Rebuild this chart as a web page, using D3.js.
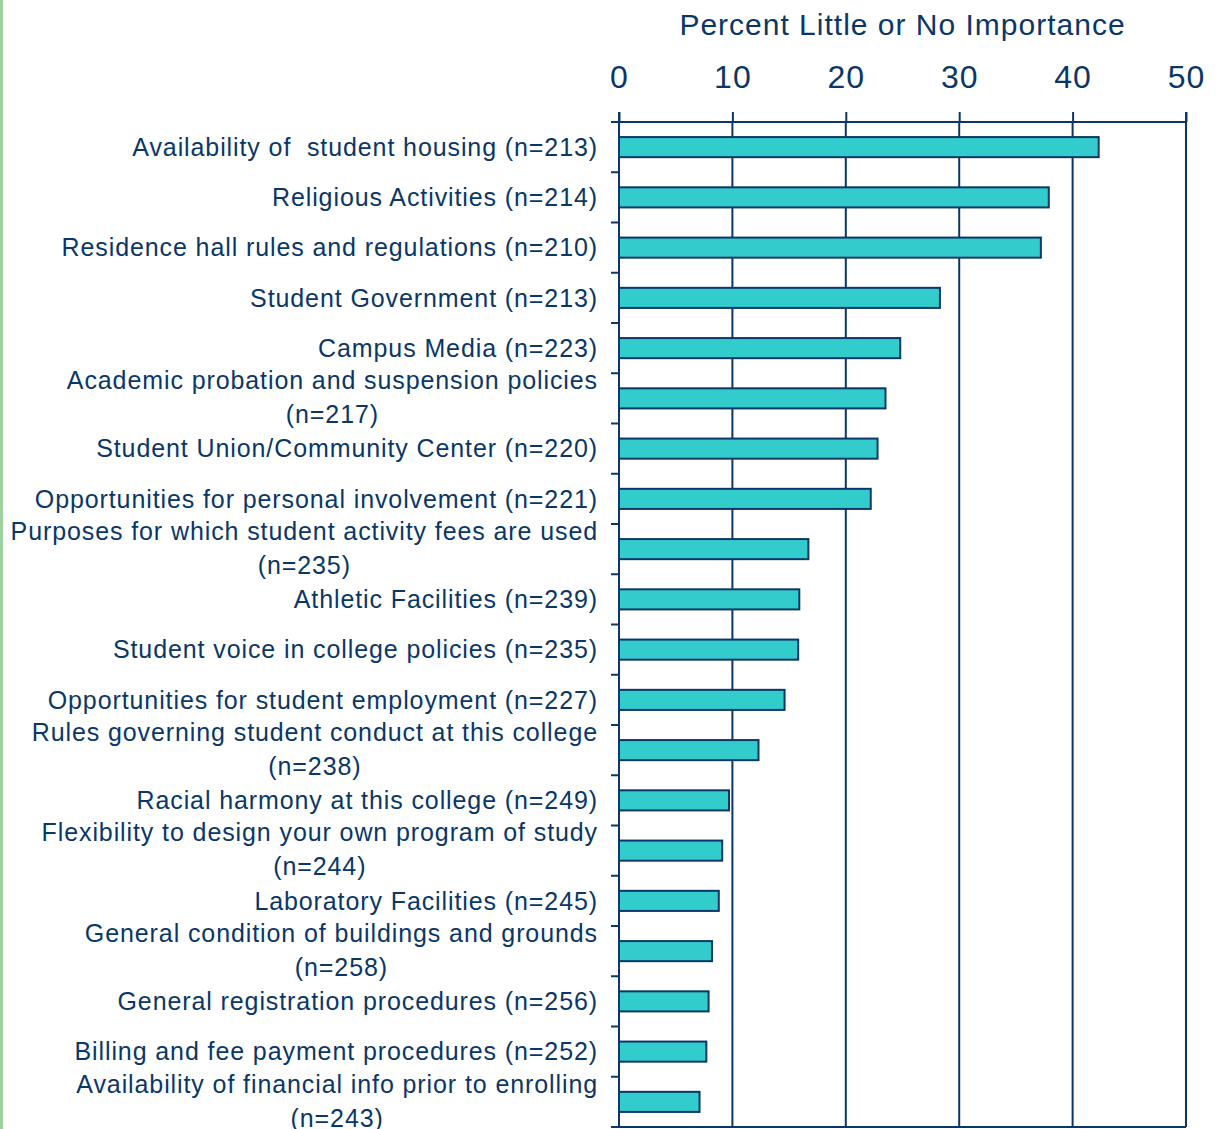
<!DOCTYPE html>
<html>
<head>
<meta charset="utf-8">
<script src="https://cdn.jsdelivr.net/npm/d3@7"></script>
<style>
  body { margin: 0; background: #fff; }
  svg { display: block; font-family: "Liberation Sans", Arial, sans-serif; }
  text { white-space: pre; }
</style>
</head>
<body>
<svg id="chart"></svg>
<script>
// Data
const categories = [
  ["Availability of  student housing (n=213)"],
  ["Religious Activities (n=214)"],
  ["Residence hall rules and regulations (n=210)"],
  ["Student Government (n=213)"],
  ["Campus Media (n=223)"],
  ["Academic probation and suspension policies", "(n=217)"],
  ["Student Union/Community Center (n=220)"],
  ["Opportunities for personal involvement (n=221)"],
  ["Purposes for which student activity fees are used", "(n=235)"],
  ["Athletic Facilities (n=239)"],
  ["Student voice in college policies (n=235)"],
  ["Opportunities for student employment (n=227)"],
  ["Rules governing student conduct at this college", "(n=238)"],
  ["Racial harmony at this college (n=249)"],
  ["Flexibility to design your own program of study", "(n=244)"],
  ["Laboratory Facilities (n=245)"],
  ["General condition of buildings and grounds", "(n=258)"],
  ["General registration procedures (n=256)"],
  ["Billing and fee payment procedures (n=252)"],
  ["Availability of financial info prior to enrolling", "(n=243)"]
];
const values = [42.3, 37.9, 37.2, 28.3, 24.8, 23.5, 22.8, 22.2, 16.7, 15.9,
  15.8, 14.6, 12.3, 9.7, 9.1, 8.8, 8.2, 7.9, 7.7, 7.1];
const tickValues = [0, 10, 20, 30, 40, 50];
const title = "Percent Little or No Importance";

// Constants
const width = 1217;
const height = 1129;
const margin = { left: 619, right: 31, top: 122, bottom: 2 };
const visWidth = width - margin.left - margin.right;
const visHeight = height - margin.top - margin.bottom;
const navy = "#0a3768";

const svg = d3.select('#chart')
  .attr('width', width)
  .attr('height', height);

// green stripe on the left edge
svg.append('rect')
  .attr('x', 0).attr('y', 0)
  .attr('width', 3).attr('height', height)
  .attr('fill', '#9fd09f');

const chart = svg.append('g')
  .attr('transform', 'translate(' + margin.left + ',' + margin.top + ')');

const x = d3.scaleLinear().domain([0, 50]).range([0, visWidth]);
const y = d3.scaleBand()
  .domain(d3.range(categories.length))
  .range([0, visHeight])
  .paddingInner(0.6)
  .paddingOuter(0.3);

// gridlines
chart.selectAll('.grid')
  .data(tickValues.slice(1))
  .enter()
  .append('line')
  .attr('x1', d => x(d)).attr('x2', d => x(d))
  .attr('y1', 0).attr('y2', visHeight)
  .attr('stroke', navy)
  .attr('stroke-width', 2);

// top axis
const xAxis = chart.append('g')
  .call(d3.axisTop(x).tickValues(tickValues).tickSize(10).tickPadding(24));
xAxis.select('.domain').attr('stroke', navy).attr('stroke-width', 2).attr('d', `M0,-10V0H${visWidth}V-10`);
xAxis.selectAll('.tick line').attr('stroke', navy).attr('stroke-width', 2);
xAxis.selectAll('.tick text')
  .attr('fill', navy)
  .attr('font-size', '32px')
  .attr('letter-spacing', '1px')
  .attr('font-family', '"Liberation Sans", Arial, sans-serif');

// bottom line
chart.append('line')
  .attr('x1', -8).attr('x2', visWidth)
  .attr('y1', visHeight).attr('y2', visHeight)
  .attr('stroke', navy).attr('stroke-width', 2);

// left axis with ticks at band boundaries
const step = visHeight / categories.length;
chart.append('line')
  .attr('x1', 0).attr('x2', 0)
  .attr('y1', 0).attr('y2', visHeight)
  .attr('stroke', navy).attr('stroke-width', 2);
chart.selectAll('.ytick')
  .data(d3.range(categories.length + 1))
  .enter()
  .append('line')
  .attr('x1', -8).attr('x2', 0)
  .attr('y1', d => d * step).attr('y2', d => d * step)
  .attr('stroke', navy).attr('stroke-width', 2);

// bars
chart.selectAll('.bar')
  .data(values)
  .enter()
  .append('rect')
  .attr('x', 0)
  .attr('y', (d, i) => y(i))
  .attr('width', d => x(d))
  .attr('height', y.bandwidth())
  .attr('fill', '#33cccc')
  .attr('stroke', navy)
  .attr('stroke-width', 2);

// category labels (two-line labels: second line centred under the first)
const lineHeight = 34;
const labels = chart.selectAll('.label')
  .data(categories)
  .enter()
  .append('g')
  .attr('transform', (d, i) => `translate(-21,${y(i) + y.bandwidth() / 2 - (d.length > 1 ? 1 : 0)})`);

labels.each(function(lines) {
  const g = d3.select(this);
  const first = g.append('text')
    .attr('text-anchor', 'end')
    .attr('y', -(lines.length - 1) * lineHeight / 2)
    .attr('dy', '0.35em')
    .attr('fill', navy)
    .attr('font-size', '25px')
    .attr('letter-spacing', '0.9px')
    .text(lines[0]);
  if (lines.length > 1) {
    const w = first.node().getComputedTextLength();
    g.append('text')
      .attr('text-anchor', 'middle')
      .attr('x', -w / 2)
      .attr('y', lineHeight / 2)
      .attr('dy', '0.35em')
      .attr('fill', navy)
      .attr('font-size', '25px')
      .attr('letter-spacing', '0.9px')
      .text(lines[1]);
  }
});

// title
svg.append('text')
  .attr('x', margin.left + visWidth / 2)
  .attr('y', 35)
  .attr('text-anchor', 'middle')
  .attr('fill', navy)
  .attr('font-size', '30px')
  .attr('letter-spacing', '1px')
  .text(title);
</script>
</body>
</html>
